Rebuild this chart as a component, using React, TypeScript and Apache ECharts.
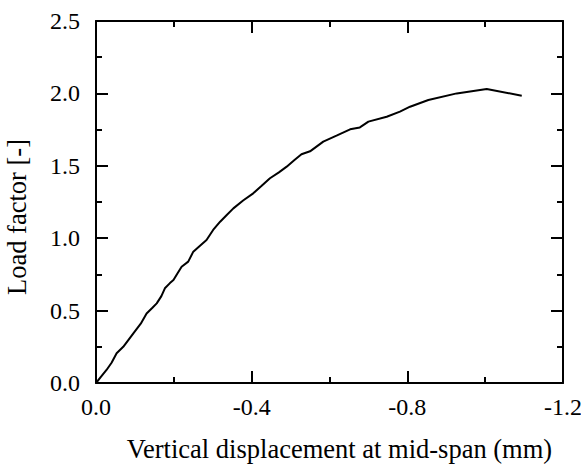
import React, { useEffect, useRef } from "react";
import * as echarts from "echarts";

const displacement = [
  0, -0.012, -0.027, -0.04, -0.053, -0.07, -0.096, -0.115, -0.13, -0.145, -0.156, -0.168,
  -0.177, -0.19, -0.199, -0.21, -0.22, -0.237, -0.25, -0.268, -0.284, -0.301, -0.319,
  -0.336, -0.353, -0.378, -0.404, -0.425, -0.447, -0.47, -0.49, -0.51, -0.528, -0.55,
  -0.584, -0.618, -0.653, -0.678, -0.7, -0.747, -0.781, -0.807, -0.854, -0.927, -1.004,
  -1.094,
];
const loadFactor = [
  0, 0.04, 0.09, 0.14, 0.205, 0.25, 0.343, 0.41, 0.48, 0.52, 0.55, 0.6, 0.654, 0.69,
  0.711, 0.76, 0.803, 0.838, 0.907, 0.95, 0.988, 1.057, 1.114, 1.16, 1.206, 1.26, 1.31,
  1.36, 1.414, 1.455, 1.494, 1.54, 1.58, 1.6, 1.667, 1.708, 1.752, 1.765, 1.805, 1.839,
  1.874, 1.908, 1.954, 2.0, 2.03, 1.984,
];
const xTitle = "Vertical displacement at mid-span (mm)";
const yTitle = "Load factor [-]";

const FONT = "'Liberation Serif', 'Times New Roman', serif";

const fmt = (v: number) => (Math.abs(v) < 1e-9 ? "0.0" : v.toFixed(1));

export default function App() {
  const ref = useRef<HTMLDivElement>(null);
  useEffect(() => {
    if (!ref.current) return;
    const chart = echarts.init(ref.current, null, { renderer: "svg" });
    const axisLine = { show: true, onZero: false, lineStyle: { color: "#000", width: 2 } };
    const tick = { show: true, inside: true, length: 12, lineStyle: { color: "#000", width: 2 } };
    const minor = { show: true, splitNumber: 2, length: 6, lineStyle: { color: "#000", width: 2 } };
    const xBase = {
      type: "value" as const,
      min: -1.2,
      max: 0,
      interval: 0.4,
      inverse: true,
      axisLine,
      axisTick: tick,
      minorTick: minor,
      splitLine: { show: false },
    };
    const yBase = {
      type: "value" as const,
      min: 0,
      max: 2.5,
      interval: 0.5,
      axisLine,
      axisTick: tick,
      minorTick: minor,
      splitLine: { show: false },
    };
    chart.setOption({
      animation: false,
      backgroundColor: "#fff",
      grid: {
        left: 96,
        top: 21,
        right: 18,
        bottom: 82,
        containLabel: false,
        outerBoundsMode: "none",
      },
      xAxis: [
        {
          ...xBase,
          position: "bottom",
          axisLabel: {
            show: true,
            formatter: fmt,
            color: "#000",
            fontFamily: FONT,
            fontSize: 24,
            margin: 12,
          },
          name: xTitle,
          nameLocation: "middle",
          nameGap: 52,
          nameTextStyle: {
            color: "#000",
            fontFamily: FONT,
            fontSize: 26.5,
            padding: [0, 0, 0, 20],
          },
        },
        { ...xBase, position: "top", axisLabel: { show: false } },
      ],
      yAxis: [
        {
          ...yBase,
          position: "left",
          axisLabel: {
            show: true,
            formatter: fmt,
            color: "#000",
            fontFamily: FONT,
            fontSize: 24,
            margin: 16,
          },
          name: yTitle,
          nameLocation: "middle",
          nameGap: 66,
          nameTextStyle: {
            color: "#000",
            fontFamily: FONT,
            fontSize: 26.5,
            padding: [0, 30, 0, 0],
          },
        },
        { ...yBase, position: "right", axisLabel: { show: false } },
      ],
      series: [
        {
          type: "line",
          data: displacement.map((d, i) => [d, loadFactor[i]]),
          showSymbol: false,
          symbol: "none",
          lineStyle: { color: "#000", width: 2 },
          xAxisIndex: 0,
          yAxisIndex: 0,
        },
      ],
    });
    return () => chart.dispose();
  }, []);
  return <div ref={ref} style={{ width: 581, height: 465, position: "absolute", left: 0, top: 0 }} />;
}
